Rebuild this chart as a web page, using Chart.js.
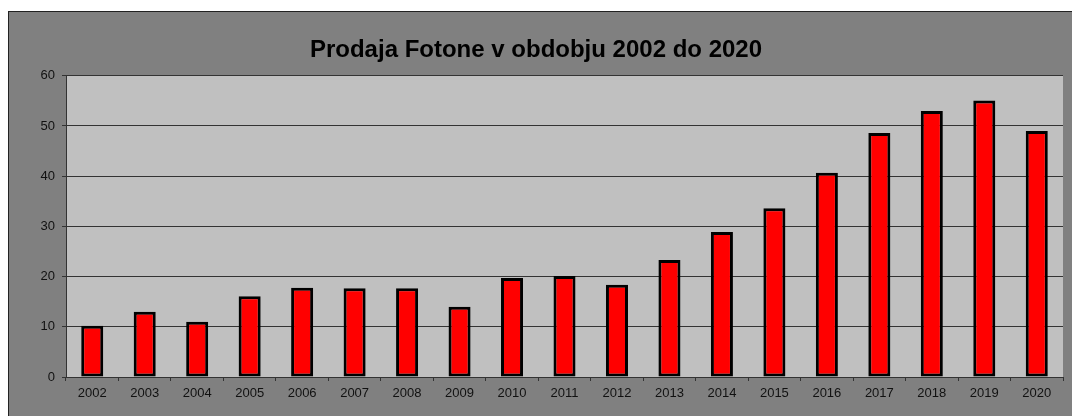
<!DOCTYPE html>
<html>
<head>
<meta charset="utf-8">
<script src="https://cdn.jsdelivr.net/npm/chart.js@4"></script>
<style>
    html, body { margin: 0; padding: 0; background: #ffffff; }
    #frame {
        position: absolute;
        left: 8px;
        top: 11px;
        width: 1070px;
        height: 410px;
        background: #808080;
        border: 1px solid #222;
    }
    #wrap { position: absolute; left: 0; top: 0; width: 1063px; height: 404px; }
</style>
</head>
<body>
<div id="frame">
    <div id="wrap"><canvas id="chart"></canvas></div>
</div>
<script>
// Chart data
const years = ['2002', '2003', '2004', '2005', '2006', '2007', '2008', '2009', '2010', '2011',
               '2012', '2013', '2014', '2015', '2016', '2017', '2018', '2019', '2020'];
const sales = [10.2, 13.0, 11.0, 16.1, 17.8, 17.7, 17.7, 14.0, 19.7, 20.1,
               18.4, 23.3, 28.9, 33.6, 40.7, 48.6, 53.0, 55.1, 49.0];
const yTicks = [0, 10, 20, 30, 40, 50, 60];

// Fill the plot area grey like the original
const plotBackground = {
    id: 'plotBackground',
    beforeDraw(chart) {
        const { ctx, chartArea } = chart;
        ctx.save();
        ctx.fillStyle = '#c0c0c0';
        ctx.fillRect(chartArea.left, chartArea.top, chartArea.right - chartArea.left, chartArea.bottom - chartArea.top);
        ctx.restore();
    }
};

const tickFont = { family: '"Liberation Sans", Arial, sans-serif', size: 13 };

new Chart(document.getElementById('chart'), {
    type: 'bar',
    data: {
        labels: years,
        datasets: [{
            label: 'Prodaja',
            data: sales,
            backgroundColor: '#ff0000',
            borderColor: '#000000',
            borderWidth: 3,
            borderSkipped: false,
            barPercentage: 0.42,
            categoryPercentage: 1
        }]
    },
    options: {
        responsive: true,
        maintainAspectRatio: false,
        animation: false,
        layout: { padding: { left: 0, right: 9, top: 0, bottom: 0 } },
        plugins: {
            legend: { display: false },
            tooltip: { enabled: false },
            title: {
                display: true,
                text: 'Prodaja Fotone v obdobju 2002 do 2020',
                color: '#000',
                font: { family: '"Liberation Sans", Arial, sans-serif', size: 24, weight: 'bold', lineHeight: 1.2 },
                padding: { top: 24, bottom: 11 }
            }
        },
        scales: {
            x: {
                grid: { display: true, drawOnChartArea: false, drawTicks: true, tickLength: 4, color: '#333' },
                border: { display: true, color: '#333', width: 1 },
                ticks: { color: '#111', font: tickFont, padding: 5, maxRotation: 0, autoSkip: false },
                afterFit(scale) { scale.height = 39; }
            },
            y: {
                min: 0,
                max: 60,
                afterBuildTicks(scale) { scale.ticks = yTicks.map(v => ({ value: v })); },
                grid: { color: '#333', lineWidth: 1, tickLength: 4 },
                border: { display: true, color: '#333', width: 1 },
                ticks: { color: '#111', font: tickFont, padding: 7 },
                afterFit(scale) { scale.width = 57; }
            }
        }
    },
    plugins: [plotBackground]
});
</script>
</body>
</html>
